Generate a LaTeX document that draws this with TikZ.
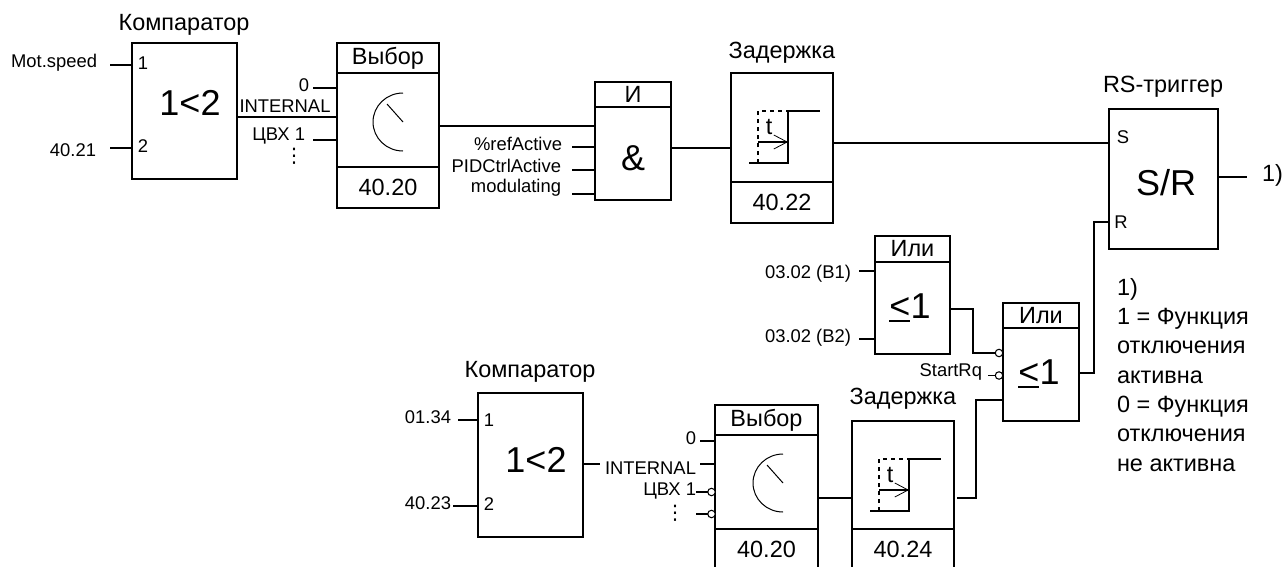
\documentclass[tikz,border=0pt]{standalone}
\usepackage{fontspec}
\setmainfont{Liberation Sans}
\newfontfamily\symfont{DejaVu Sans}
\usetikzlibrary{arrows.meta,positioning}
\newcommand{\leone}{\makebox[0pt][l]{\rule[-.09em]{.58em}{.06em}}<1}
\begin{document}
\begin{tikzpicture}[x=.75pt,y=-.75pt,
  box/.style 2 args={draw=black,line width=1.25pt,fill=white,minimum width=#1*.75pt,minimum height=#2*.75pt,
    inner sep=0pt,outer sep=0pt,font=\fontsize{17.6}{20}\selectfont},
  lbl/.style={inner sep=0pt,outer sep=0pt,font=\fontsize{13.8}{16}\selectfont},
  midlbl/.style={inner sep=0pt,outer sep=0pt,font=\fontsize{17.6}{20}\selectfont},
  biglbl/.style={inner sep=0pt,outer sep=0pt,font=\fontsize{27}{30}\selectfont},
  dotlbl/.style={inner sep=0pt,outer sep=0pt,font=\symfont\fontsize{15}{18}\selectfont},
  wire/.style={line width=1.25pt,draw=black},
  bubble/.style={circle,draw=black,line width=.8pt,fill=white,minimum size=5.6pt,inner sep=0pt,outer sep=0pt},
  dial/.pic={\draw[line width=.75pt](0,-29) arc[start angle=270,end angle=90,x radius=30,y radius=29];
    \draw[line width=.75pt](-16,-18)--(0,0);},
  stepfn/.pic={\draw[wire,dashed,dash pattern=on 3pt off 3pt](27,90)--(27,38)--(57,38);
    \draw[wire](18,90)--(57,90)--(57,38)--(89,38);
    \draw[wire,-{Straight Barb[length=10pt,width=10.5pt,line width=.6pt]}](27,69)--(57,69);
    \node[midlbl] at (38,54) {t};}]
\useasboundingbox (0,0) rectangle (1284,567);
% top row
\node[box={105}{136},anchor=north west](cmpA) at (132,43) {};
\node[midlbl](cmpAtitle) at (184,25) {Компаратор};
\node[biglbl](cmpAtext) at (190,103) {1<2};
\node[lbl](cmpApinA) at (143,63) {1};
\node[lbl](cmpApinB) at (143,146) {2};
\node[lbl,anchor=east](inSpeed) at (97,63) {Mot.speed};
\node[lbl,anchor=east](inCmpA) at (96,150) {40.21};
\coordinate (pinSpeed) at (110,65); \coordinate (pinCmpA) at (110,148);
\draw[wire](pinSpeed)--(pinSpeed-|cmpA.west);\draw[wire](pinCmpA)--(pinCmpA-|cmpA.west);
\node[box={102}{30},anchor=north west](selAhead) at (337,43) {Выбор};
\node[box={102}{94},below=0pt of selAhead](selAbody) {};
\node[box={102}{41},below=0pt of selAbody](selAfoot) {40.20};
\pic at (403,122) {dial};
\node[lbl,anchor=east](inZeroA) at (309,85) {0};
\node[lbl](inInternalA) at (285,106) {INTERNAL};
\node[lbl,anchor=east](inDiA) at (305,136) {ЦВХ 1};
\node[dotlbl](dotsA) at (294,156) {⋮};
\coordinate (pinZeroA) at (313,88); \coordinate (pinDiA) at (313,140);
\coordinate (outCmpA) at (237,117);
\draw[wire](pinZeroA)--(pinZeroA-|selAbody.west);\draw[wire](pinDiA)--(pinDiA-|selAbody.west);
\draw[wire](outCmpA)--(outCmpA-|selAbody.west);
\node[box={76}{25},anchor=north west](andhead) at (595,82) {И};
\node[box={76}{93},below=0pt of andhead](andbody) {};
\node[biglbl](andtext) at (633,158) {\&};
\coordinate (outSelA) at (439,126);
\draw[wire](outSelA)--(outSelA-|andbody.west);
\node[lbl,anchor=east](inRef) at (562,144) {\%refActive};
\node[lbl,anchor=east](inPid) at (561,166) {PIDCtrlActive};
\node[lbl,anchor=east](inMod) at (561,188) {modulating};
\coordinate (pinRef) at (572,147); \coordinate (pinPid) at (572,170); \coordinate (pinMod) at (572,194);
\draw[wire](pinRef)--(pinRef-|andbody.west);\draw[wire](pinPid)--(pinPid-|andbody.west);\draw[wire](pinMod)--(pinMod-|andbody.west);
\node[box={102}{109},anchor=north west](dlyAbody) at (731,73) {};
\node[box={102}{41},below=0pt of dlyAbody](dlyAfoot) {40.22};
\node[midlbl](dlyAtitle) at (782,53) {Задержка};
\pic at (731,73) {stepfn};
\coordinate (outAnd) at (671,148);
\draw[wire](outAnd)--(outAnd-|dlyAbody.west);
\node[box={109}{140},anchor=north west](rsbox) at (1109,109) {};
\node[midlbl](rstitle) at (1163,87) {RS-триггер};
\node[biglbl](rstext) at (1166,183) {S/R};
\node[lbl](rspinS) at (1123,137) {S};
\node[lbl](rspinR) at (1121,222) {R};
\coordinate (outDlyA) at (834,143);
\draw[wire](outDlyA)--(outDlyA-|rsbox.west);
\coordinate (outRs) at (1218,177);
\node[midlbl,anchor=west](rsout) at (1262,175) {1)};
\coordinate (endRs) at (1247,177);
\draw[wire](outRs)--(endRs);
% OR gates
\node[box={75}{26},anchor=north west](orAhead) at (875,236) {Или};
\node[box={75}{92},below=0pt of orAhead](orAbody) {};
\node[biglbl](orAtext) at (910,308) {\leone};
\node[lbl,anchor=east](inBA) at (851,274) {03.02 (B1)};
\node[lbl,anchor=east](inBB) at (851,338) {03.02 (B2)};
\coordinate (pinBA) at (859,271); \coordinate (pinBB) at (859,339);
\draw[wire](pinBA)--(pinBA-|orAbody.west);\draw[wire](pinBB)--(pinBB-|orAbody.west);
\node[box={76}{25},anchor=north west](orBhead) at (1003,303) {Или};
\node[box={76}{93},below=0pt of orBhead](orBbody) {};
\node[biglbl](orBtext) at (1039,374) {\leone};
\node[bubble](bubOrA) at (999,353) {};
\node[bubble](bubOrB) at (999,375.5) {};
\node[lbl,anchor=east](inStart) at (982,372) {StartRq};
\coordinate (pinStart) at (988,375.5);
\draw[wire](pinStart)--(bubOrB);
\coordinate (outOrA) at (950,309);
\draw[wire](outOrA)-|(973,353)--(bubOrA);
\draw[wire](orBbody.east|-0,373)--(1094,373)|-(rsbox.west|-0,222);
\node[midlbl,anchor=north west,align=left,font=\fontsize{17.6}{22}\selectfont](note) at (1117,278) {1)\\1 = Функция\\отключения\\активна\\0 = Функция\\отключения\\не активна};
% bottom row
\node[box={105}{144},anchor=north west](cmpB) at (478,393) {};
\node[midlbl](cmpBtitle) at (530,372) {Компаратор};
\node[biglbl](cmpBtext) at (536,460) {1<2};
\node[lbl](cmpBpinA) at (489,420) {1};
\node[lbl](cmpBpinB) at (489,504) {2};
\node[lbl,anchor=east](inCmpBA) at (451,417) {01.34};
\node[lbl,anchor=east](inCmpBB) at (451,503) {40.23};
\coordinate (pinCmpBA) at (458,420); \coordinate (pinCmpBB) at (453,506);
\draw[wire](pinCmpBA)--(pinCmpBA-|cmpB.west);\draw[wire](pinCmpBB)--(pinCmpBB-|cmpB.west);
\node[box={103}{30},anchor=north west](selBhead) at (715,405) {Выбор};
\node[box={103}{94},below=0pt of selBhead](selBbody) {};
\node[box={103}{41},below=0pt of selBbody](selBfoot) {40.20};
\pic at (783,483) {dial};
\node[lbl,anchor=east](inZeroB) at (696,438) {0};
\node[lbl,anchor=east](inInternalB) at (696,468) {INTERNAL};
\node[lbl,anchor=east](inDiB) at (696,491) {ЦВХ 1};
\node[dotlbl](dotsB) at (675,513) {⋮};
\node[bubble](bubSelA) at (711.5,492) {};
\node[bubble](bubSelB) at (711.5,514) {};
\coordinate (pinZeroB) at (700,441); \coordinate (pinInternalB) at (700,464);
\coordinate (pinDiB) at (696,492); \coordinate (pinDotsB) at (696,514);
\draw[wire](pinZeroB)--(pinZeroB-|selBbody.west);\draw[wire](pinInternalB)--(pinInternalB-|selBbody.west);
\draw[wire](pinDiB)--(bubSelA);\draw[wire](pinDotsB)--(bubSelB);
\coordinate (outCmpB) at (583,464); \coordinate (endCmpB) at (600,464);
\draw[wire](outCmpB)--(endCmpB);
\node[box={102}{108},anchor=north west](dlyBbody) at (852,421) {};
\node[box={102}{41},below=0pt of dlyBbody](dlyBfoot) {40.24};
\node[midlbl](dlyBtitle) at (903,399) {Задержка};
\pic at (852,421) {stepfn};
\coordinate (outSelB) at (818,498);
\draw[wire](outSelB)--(outSelB-|dlyBbody.west);
\coordinate (outDlyB) at (957,498);
\draw[wire](outDlyB)-|(976,400)--(orBbody.west|-0,400);
\end{tikzpicture}
\end{document}
